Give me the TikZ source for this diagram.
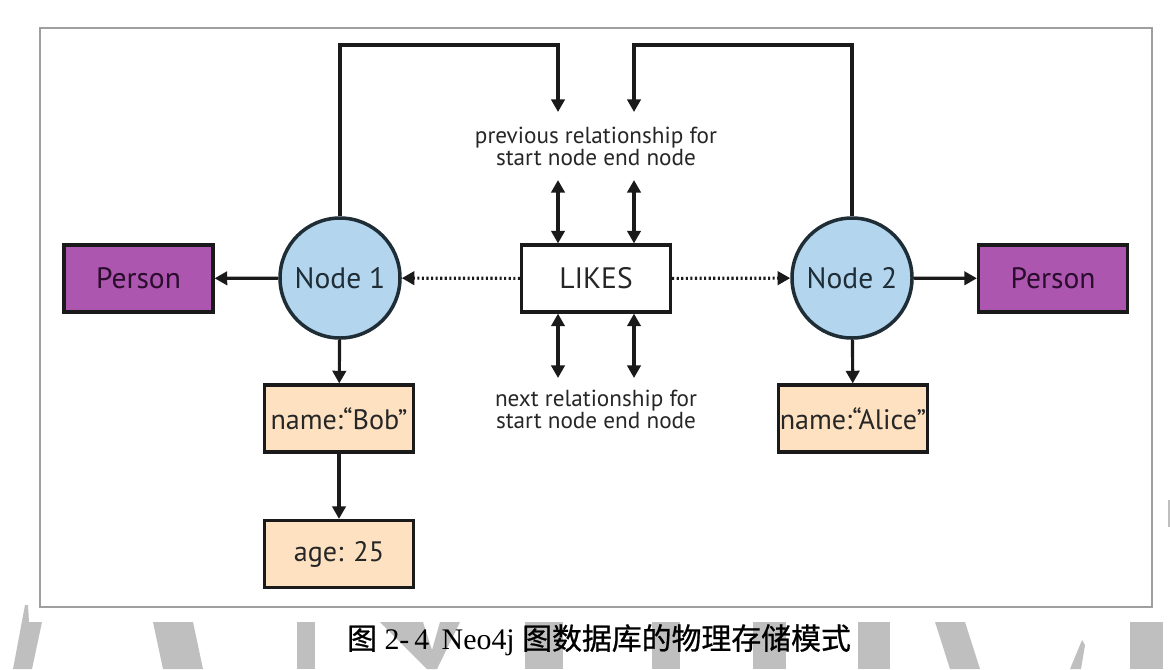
\documentclass[tikz,border=0pt]{standalone}
\usepackage{fontspec}
\usepackage{xcolor}
\setmainfont{Liberation Serif}
\setsansfont{PT Sans}
\newfontfamily\cjk[UprightFeatures={FakeBold=0.8}]{Noto Sans CJK SC}
\usetikzlibrary{
    positioning,    % relative placement
    arrows.meta     % Triangle tips
}
\definecolor{personfill}{HTML}{AD56AF}
\definecolor{persontext}{HTML}{2A0C2C}
\definecolor{nodefill}{HTML}{B3D5EE}
\definecolor{nodeline}{HTML}{1F2D36}
\definecolor{propfill}{HTML}{FDE1C1}
\definecolor{linecol}{HTML}{1A1A1A}

\begin{document}
\begin{tikzpicture}[
    box/.style={rectangle, draw=linecol, line width=0.9pt, minimum height=0.67cm, minimum width=1.49cm, inner sep=0pt, font=\sffamily\fontsize{8.4}{10}\selectfont},
    person/.style={box, fill=personfill, text=persontext},
    prop/.style={box, fill=propfill, text=black!85, font=\sffamily\fontsize{8.0}{10}\selectfont},
    rel/.style={box, fill=white, text=black!85},
    graphnode/.style={circle, draw=nodeline, line width=1pt, fill=nodefill, minimum size=1.20cm, inner sep=0pt, text=nodeline, font=\sffamily\fontsize{8.4}{10}\selectfont},
    note/.style={font=\sffamily\fontsize{6.6}{6.3}\selectfont, align=center, text=black!85},
    arrow/.style={-{Triangle[length=3.6pt,width=3.8pt]}, line width=0.9pt, draw=linecol},
    dblarrow/.style={{Triangle[length=3.6pt,width=3.8pt]}-{Triangle[length=3.6pt,width=3.8pt]}, line width=0.9pt, draw=linecol},
    dotarrow/.style={arrow, dash pattern=on 0.6pt off 0.7pt},
    watermark/.style={fill=gray!50, draw=none},
    caption/.style={font=\fontsize{8.5}{10}\selectfont}
]
    \useasboundingbox (0,0) rectangle (11.70,-6.69);

    % Watermark stripes
    \fill[watermark] (0.25,-6.05) -- (0.28,-6.05) -- (0.29,-6.22) -- (0.42,-6.22) -- (0.32,-6.69) -- (0.13,-6.69) -- cycle;
    \fill[watermark] (1.53,-6.22) -- (1.93,-6.22) -- (2.03,-6.69) -- (1.63,-6.69) -- cycle;
    \fill[watermark] (2.97,-6.22) rectangle (3.15,-6.69);
    \fill[watermark] (3.80,-6.22) -- (4.23,-6.22) -- (4.32,-6.50) -- (4.40,-6.22) -- (4.60,-6.22) -- (4.37,-6.69) -- (4.27,-6.69) -- cycle;
    \fill[watermark] (5.25,-6.22) rectangle (5.63,-6.69);
    \fill[watermark] (6.52,-6.22) rectangle (6.80,-6.69);
    \fill[watermark] (7.53,-6.22) rectangle (7.86,-6.69);
    \fill[watermark] (8.58,-6.22) rectangle (8.90,-6.69);
    \fill[watermark] (9.35,-6.22) -- (9.65,-6.22) -- (9.80,-6.69) -- (9.50,-6.69) -- cycle;
    \fill[watermark] (10.82,-6.40) -- (10.85,-6.45) -- (10.81,-6.69) -- (10.70,-6.69) -- cycle;
    \fill[watermark] (11.30,-6.22) rectangle (11.63,-6.69);
    \fill[watermark] (11.68,-5.00) rectangle (11.70,-5.27);

    % Frame
    \draw[gray!75, line width=0.5pt, fill=white] (0.40,-0.28) rectangle (11.52,-6.07);

    % Nodes and labels
    \node[graphnode] (node1) at (3.40,-2.78) {Node 1};
    \node[graphnode] (node2) at (8.52,-2.78) {Node 2};
    \node[rel] (likes) at (5.96,-2.785) {LIKES};
    \node[person] (person1) at (1.385,-2.785) {Person};
    \node[person] (person2) at (10.53,-2.785) {Person};

    % Properties
    \node[prop] (bob) at (3.39,-4.185) {name:\textquotedblleft Bob\textquotedblright};
    \node[prop] (age) at (3.39,-5.54) {age: 25};
    \node[prop] (alice) at (8.53,-4.185) {name:\textquotedblleft Alice\textquotedblright};

    % Relationship chains
    \node[note] (prev) at (5.96,-1.46) {previous relationship for\\start node end node};
    \node[note] (next) at (5.96,-4.09) {next relationship for\\start node end node};

    \coordinate (topL) at (5.58,-0.45);
    \coordinate (topR) at (6.34,-0.45);
    \coordinate (prevL) at (5.58,-1.12);
    \coordinate (prevR) at (6.34,-1.12);
    \coordinate (pa) at (5.58,-1.80);
    \coordinate (pb) at (6.34,-1.80);
    \coordinate (na) at (5.58,-3.78);
    \coordinate (nb) at (6.34,-3.78);

    \draw[arrow] (node1.north) |- (topL) -- (prevL);
    \draw[arrow] (node2.north) |- (topR) -- (prevR);
    \draw[dblarrow] (pa) -- (pa |- likes.north);
    \draw[dblarrow] (pb) -- (pb |- likes.north);
    \draw[dblarrow] (pa |- likes.south) -- (na);
    \draw[dblarrow] (pb |- likes.south) -- (nb);

    % Edges
    \draw[dotarrow] (likes) -- (node1);
    \draw[dotarrow] (likes) -- (node2);
    \draw[arrow] (node1) -- (person1);
    \draw[arrow] (node2) -- (person2);
    \draw[arrow] (node1) -- (bob);
    \draw[arrow] (bob) -- (age);
    \draw[arrow] (node2) -- (alice);

    % Caption
    \node[caption] (cap) at (5.99,-6.40) {{\cjk 图}\ 2-\,4\ \,Neo4j\ {\cjk 图数据库的物理存储模式}};
\end{tikzpicture}
\end{document}
